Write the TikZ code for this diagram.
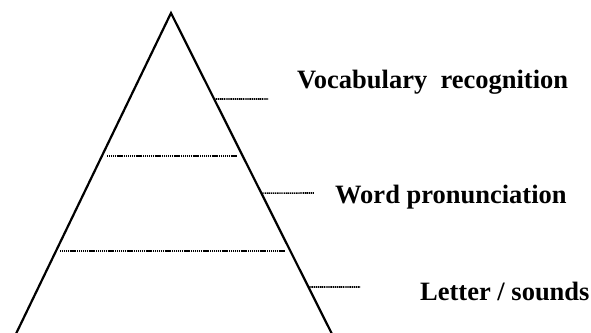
\documentclass[tikz,border=0pt]{standalone}
\usepackage{fontspec}
\setmainfont{Liberation Serif}
\usetikzlibrary{calc}

\begin{document}
\begin{tikzpicture}[x=1pt,y=-1pt,
  side/.style={line width=2.2pt,line join=miter},
  dotline/.style={line width=1.6pt,dash pattern=on 1.2pt off 0.7pt},
  lvltext/.style={anchor=base west,inner sep=0pt,font=\fontsize{26.5}{30}\selectfont\bfseries}
]
  \clip (0,0) rectangle (591,332);
  % pyramid
  \coordinate (apex) at (171,13);
  \coordinate (bl) at (13,340);
  \coordinate (br) at (335,340);
  \draw[side] (bl) -- (apex) -- (br);
  % level dividers
  \coordinate (d1a) at (107,156);
  \coordinate (d1b) at (238,156);
  \coordinate (d2a) at (60,251);
  \coordinate (d2b) at (286,251);
  \draw[dotline] (d1a) -- (d1b);
  \draw[dotline] (d2a) -- (d2b);
  % level labels
  \node[lvltext] (vocab) at (297,88) {Vocabulary\ \ recognition};
  \node[lvltext] (word) at (335,203) {Word pronunciation};
  \node[lvltext] (letter) at (420,300) {Letter / sounds};
  \coordinate (t1a) at ($(apex)!0.263!(br)$);
  \coordinate (t1b) at (268,99);
  \coordinate (t2a) at ($(apex)!0.551!(br)$);
  \coordinate (t2b) at (314,193);
  \coordinate (t3a) at ($(apex)!0.838!(br)$);
  \coordinate (t3b) at (360,287);
  \draw[dotline] (t1a) -- (t1b);
  \draw[dotline] (t2a) -- (t2b);
  \draw[dotline] (t3a) -- (t3b);
\end{tikzpicture}
\end{document}
